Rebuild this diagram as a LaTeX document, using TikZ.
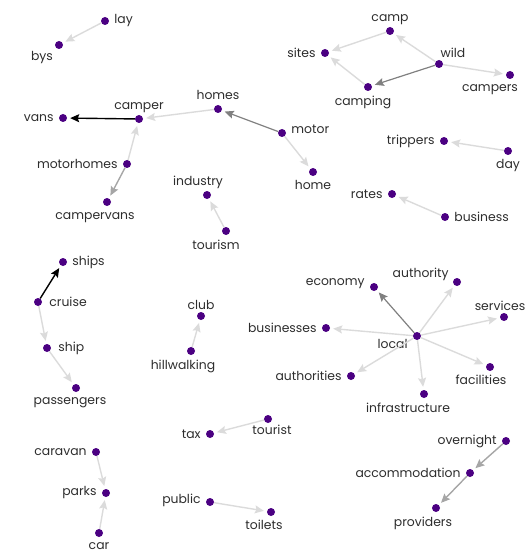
\documentclass[tikz,border=0pt]{standalone}
\usepackage{fontspec}
\setmainfont{Poppins}
\usepackage{xcolor}
\usetikzlibrary{arrows.meta, positioning}
\definecolor{dotviolet}{RGB}{75,0,130}
\definecolor{wordgray}{RGB}{45,45,45}
\tikzset{
  dot/.style={circle, fill=dotviolet, inner sep=0pt, minimum size=8pt},
  word/.style={font=\fontsize{12.4}{13}\selectfont, text=wordgray, inner sep=1pt},
  link/.style={-{Stealth[length=9pt,width=8pt,inset=1.5pt]}, line width=1.4pt,
               shorten >=3pt},
  lite/.style={link, draw=black!14},
  mid/.style={link, draw=black!35},
  dark/.style={link, draw=black!50, line width=1.2pt},
  bold/.style={link, draw=black},
}

\begin{document}
\begin{tikzpicture}[x=1pt, y=-1pt, node distance=1pt]
  \useasboundingbox (0,0) rectangle (526,556);

  % lay bys
  \node[dot] (lay) at (105,21) {};
  \node[word, right=4pt of lay] (lay-t) {lay};
  \node[dot] (bys) at (59,45) {};
  \node[word, below=of bys, xshift=-17pt] (bys-t) {bys};

  % camper cluster
  \node[dot] (homes) at (218,109) {};
  \node[word, above=4pt of homes] (homes-t) {homes};
  \node[dot] (camper) at (139,119) {};
  \node[word, above=of camper] (camper-t) {camper};
  \node[dot] (vans) at (63,118) {};
  \node[word, left=4pt of vans] (vans-t) {vans};
  \node[dot] (motorhomes) at (127,164) {};
  \node[word, left=4pt of motorhomes] (motorhomes-t) {motorhomes};
  \node[dot] (campervans) at (107,202) {};
  \node[word, below=5pt of campervans, xshift=-12pt] (campervans-t) {campervans};
  \node[dot] (motor) at (282,133) {};
  \node[word, right=4pt of motor, yshift=4pt] (motor-t) {motor};
  \node[dot] (home) at (313,172) {};
  \node[word, below=3pt of home] (home-t) {home};

  % tourism industry
  \node[dot] (industry) at (207,195) {};
  \node[word, above=of industry, xshift=-9pt] (industry-t) {industry};
  \node[dot] (tourism) at (226,231) {};
  \node[word, below=4pt of tourism, xshift=-10pt] (tourism-t) {tourism};

  % camping cluster
  \node[dot] (camp) at (390,31) {};
  \node[word, above=of camp] (camp-t) {camp};
  \node[dot] (sites) at (325,53) {};
  \node[word, left=4pt of sites] (sites-t) {sites};
  \node[dot] (wild) at (439,64) {};
  \node[word, above=of wild, xshift=14pt] (wild-t) {wild};
  \node[dot] (camping) at (368,87) {};
  \node[word, below=4pt of camping, xshift=-5pt] (camping-t) {camping};
  \node[dot] (campers) at (510,75) {};
  \node[word, below=4pt of campers, xshift=-20pt] (campers-t) {campers};

  % trippers rates
  \node[dot] (trippers) at (444,141) {};
  \node[word, left=4pt of trippers] (trippers-t) {trippers};
  \node[dot] (day) at (508,151) {};
  \node[word, below=3pt of day] (day-t) {day};
  \node[dot] (rates) at (392,194) {};
  \node[word, left=4pt of rates] (rates-t) {rates};
  \node[dot] (business) at (445,217) {};
  \node[word, right=4pt of business] (business-t) {business};

  % cruise
  \node[dot] (ships) at (63,262) {};
  \node[word, right=4pt of ships] (ships-t) {ships};
  \node[dot] (cruise) at (38,302) {};
  \node[word, right=6pt of cruise] (cruise-t) {cruise};
  \node[dot] (ship) at (47,348) {};
  \node[word, right=6pt of ship] (ship-t) {ship};
  \node[dot] (passengers) at (76,388) {};
  \node[word, below=4pt of passengers, xshift=-6pt] (passengers-t) {passengers};

  % club
  \node[dot] (club) at (201,316) {};
  \node[word, above=of club] (club-t) {club};
  \node[dot] (hillwalking) at (191,351) {};
  \node[word, below=4pt of hillwalking, xshift=-8pt] (hillwalking-t) {hillwalking};

  % local
  \node[dot] (local) at (417,336) {};
  \node[word, left=4pt of local, yshift=-8pt] (local-t) {local};
  \node[dot] (economy) at (374,287) {};
  \node[word, left=4pt of economy, yshift=3pt] (economy-t) {economy};
  \node[dot] (authority) at (457,282) {};
  \node[word, left=3pt of authority, yshift=8pt] (authority-t) {authority};
  \node[dot] (services) at (504,317) {};
  \node[word, above=of services, xshift=-4pt] (services-t) {services};
  \node[dot] (businesses) at (326,328) {};
  \node[word, left=4pt of businesses] (businesses-t) {businesses};
  \node[dot] (authorities) at (351,376) {};
  \node[word, left=4pt of authorities] (authorities-t) {authorities};
  \node[dot] (facilities) at (490,367) {};
  \node[word, below=3pt of facilities, xshift=-9pt] (facilities-t) {facilities};
  \node[dot] (infrastructure) at (424,394) {};
  \node[word, below=4pt of infrastructure, xshift=-16pt] (infrastructure-t) {infrastructure};

  % tax toilets
  \node[dot] (tax) at (210,434) {};
  \node[word, left=4pt of tax] (tax-t) {tax};
  \node[dot] (tourist) at (268,419) {};
  \node[word, below=of tourist, xshift=4pt] (tourist-t) {tourist};
  \node[dot] (public) at (210,502) {};
  \node[word, left=4pt of public, yshift=2pt] (public-t) {public};
  \node[dot] (toilets) at (271,512) {};
  \node[word, below=3pt of toilets, xshift=-7pt] (toilets-t) {toilets};

  % parks
  \node[dot] (caravan) at (96,452) {};
  \node[word, left=4pt of caravan] (caravan-t) {caravan};
  \node[dot] (parks) at (106,493) {};
  \node[word, left=4pt of parks] (parks-t) {parks};
  \node[dot] (car) at (99,533) {};
  \node[word, below=4pt of car] (car-t) {car};

  % accommodation
  \node[dot] (overnight) at (506,441) {};
  \node[word, left=4pt of overnight] (overnight-t) {overnight};
  \node[dot] (accommodation) at (470,473) {};
  \node[word, left=4pt of accommodation] (accommodation-t) {accommodation};
  \node[dot] (providers) at (436,508) {};
  \node[word, below=4pt of providers, xshift=-13pt] (providers-t) {providers};

  \draw[lite] (lay) -- (bys);
  \draw[lite] (homes) -- (camper);
  \draw[bold] (camper) -- (vans);
  \draw[dark] (motor) -- (homes);
  \draw[lite] (motorhomes) -- (camper);
  \draw[mid] (motorhomes) -- (campervans);
  \draw[lite] (motor) -- (home);
  \draw[lite] (tourism) -- (industry);
  \draw[lite] (camp) -- (sites);
  \draw[lite] (camping) -- (sites);
  \draw[lite] (wild) -- (camp);
  \draw[dark] (wild) -- (camping);
  \draw[lite] (wild) -- (campers);
  \draw[lite] (day) -- (trippers);
  \draw[lite] (business) -- (rates);
  \draw[bold] (cruise) -- (ships);
  \draw[lite] (cruise) -- (ship);
  \draw[lite] (ship) -- (passengers);
  \draw[lite] (hillwalking) -- (club);
  \draw[dark] (local) -- (economy);
  \foreach \t in {authority, services, businesses, authorities, facilities, infrastructure}
    \draw[lite] (local) -- (\t);
  \draw[lite] (tourist) -- (tax);
  \draw[lite] (public) -- (toilets);
  \draw[lite] (caravan) -- (parks);
  \draw[lite] (car) -- (parks);
  \draw[mid] (overnight) -- (accommodation);
  \draw[mid] (accommodation) -- (providers);
\end{tikzpicture}
\end{document}
